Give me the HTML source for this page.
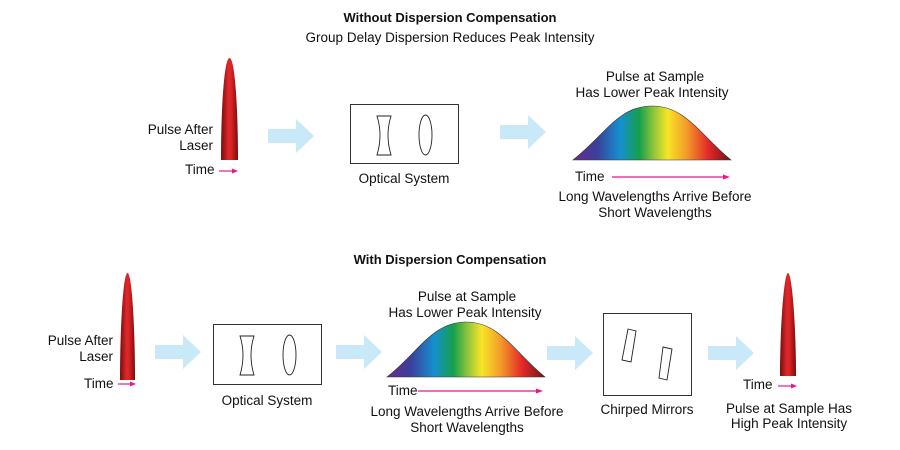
<!DOCTYPE html>
<html><head><style>
html,body{margin:0;padding:0;background:#fff;}
svg{display:block;}
text{font-family:"Liberation Sans",Arial,sans-serif;font-size:13.5px;fill:#111;}
.b{font-weight:bold;font-size:13px;}
</style></head><body>
<svg width="900" height="450" viewBox="0 0 900 450" xmlns="http://www.w3.org/2000/svg">
<defs>
<linearGradient id="rb" x1="0" x2="1" y1="0" y2="0">
<stop offset="0" stop-color="#6a2a8f"/>
<stop offset="0.15" stop-color="#3a3f9a"/>
<stop offset="0.3" stop-color="#1690d0"/>
<stop offset="0.42" stop-color="#16a04a"/>
<stop offset="0.52" stop-color="#9cc83a"/>
<stop offset="0.6" stop-color="#f7e526"/>
<stop offset="0.72" stop-color="#f39a2a"/>
<stop offset="0.86" stop-color="#e3262a"/>
<stop offset="1" stop-color="#6e1414"/>
</linearGradient>
<linearGradient id="rd" x1="0" x2="1" y1="0" y2="0">
<stop offset="0" stop-color="#7a0c0c"/>
<stop offset="0.45" stop-color="#e0282a"/>
<stop offset="0.6" stop-color="#d82326"/>
<stop offset="1" stop-color="#7a0c0c"/>
</linearGradient>
<g id="arr"><path d="M0,-7 H28 V-17 L46,0 L28,17 V7 H0 Z" fill="#c9e8f8"/></g>
</defs>

<text class="b" x="450" y="22" text-anchor="middle">Without Dispersion Compensation</text>
<text x="450" y="42" text-anchor="middle">Group Delay Dispersion Reduces Peak Intensity</text>

<path d="M221,160 C221,110 224,58 229.5,58 C235,58 238,110 238,160 Z" fill="url(#rd)"/>
<text x="213" y="134" text-anchor="end">Pulse After</text>
<text x="213" y="150" text-anchor="end">Laser</text>
<text x="185" y="174">Time</text>
<line x1="219" y1="171" x2="233" y2="171" stroke="#e8188c" stroke-width="1.2"/>
<path d="M238,171 L232,168.5 L232,173.5Z" fill="#e8188c"/>

<use href="#arr" x="268" y="136"/>
<rect x="350.5" y="104.5" width="108" height="59" fill="none" stroke="#333" stroke-width="1"/>
<path d="M377,116 H391 Q385,135 391,155 H377 Q383,135 377,116Z" fill="none" stroke="#222" stroke-width="0.9"/>
<ellipse cx="425.5" cy="135" rx="6.5" ry="20" fill="none" stroke="#222" stroke-width="0.9"/>
<text x="404" y="183" text-anchor="middle">Optical System</text>

<use href="#arr" x="500" y="132"/>
<path d="M573,160 C605,135 618,106 652,106 C686,106 700,135 731,160 Z" fill="url(#rb)" stroke="#333" stroke-width="0.6"/>
<text x="655" y="81" text-anchor="middle">Pulse at Sample</text>
<text x="652" y="97" text-anchor="middle">Has Lower Peak Intensity</text>
<text x="575" y="181">Time</text>
<line x1="612" y1="177" x2="724" y2="177" stroke="#e8188c" stroke-width="1.2"/>
<path d="M730,177 L723,174.5 L723,179.5Z" fill="#e8188c"/>
<text x="655" y="201" text-anchor="middle">Long Wavelengths Arrive Before</text>
<text x="655" y="217" text-anchor="middle">Short Wavelengths</text>

<text class="b" x="450" y="264" text-anchor="middle">With Dispersion Compensation</text>

<path d="M120,380 C120,330 123,273 127.5,273 C132,273 135,330 135,380 Z" fill="url(#rd)"/>
<text x="113" y="345" text-anchor="end">Pulse After</text>
<text x="113" y="361" text-anchor="end">Laser</text>
<text x="84" y="388">Time</text>
<line x1="118" y1="384" x2="131" y2="384" stroke="#e8188c" stroke-width="1.2"/>
<path d="M136,384 L130,381.5 L130,386.5Z" fill="#e8188c"/>

<use href="#arr" x="155" y="352"/>
<rect x="213.5" y="324.5" width="108" height="60" fill="none" stroke="#333" stroke-width="1"/>
<path d="M240,336 H254 Q248,355 254,375 H240 Q246,355 240,336Z" fill="none" stroke="#222" stroke-width="0.9"/>
<ellipse cx="289.5" cy="355" rx="6.5" ry="20" fill="none" stroke="#222" stroke-width="0.9"/>
<text x="267" y="405" text-anchor="middle">Optical System</text>

<use href="#arr" x="336" y="352"/>
<path d="M387,377 C419,352 432,322 466,322 C500,322 514,352 545,377 Z" fill="url(#rb)" stroke="#333" stroke-width="0.6"/>
<text x="467" y="301" text-anchor="middle">Pulse at Sample</text>
<text x="465" y="317" text-anchor="middle">Has Lower Peak Intensity</text>
<text x="388" y="395">Time</text>
<line x1="418" y1="391" x2="537" y2="391" stroke="#e8188c" stroke-width="1.2"/>
<path d="M543,391 L536,388.5 L536,393.5Z" fill="#e8188c"/>
<text x="467" y="416" text-anchor="middle">Long Wavelengths Arrive Before</text>
<text x="467" y="432" text-anchor="middle">Short Wavelengths</text>

<use href="#arr" x="547" y="353"/>
<rect x="603.5" y="313.5" width="88" height="82" fill="none" stroke="#333" stroke-width="1"/>
<path d="M628,329 L636,331 L631,362 L622,360Z" fill="none" stroke="#222" stroke-width="0.9"/>
<path d="M663,347 L672,349 L667,380 L659,378Z" fill="none" stroke="#222" stroke-width="0.9"/>
<text x="647" y="414" text-anchor="middle">Chirped Mirrors</text>

<use href="#arr" x="708" y="353"/>
<path d="M780,376 C780,326 784,273 788,273 C792,273 796,326 796,376 Z" fill="url(#rd)"/>
<text x="743" y="389">Time</text>
<line x1="778" y1="386" x2="791" y2="386" stroke="#e8188c" stroke-width="1.2"/>
<path d="M797,386 L791,383.5 L791,388.5Z" fill="#e8188c"/>
<text x="789" y="413" text-anchor="middle">Pulse at Sample Has</text>
<text x="789" y="428" text-anchor="middle">High Peak Intensity</text>
</svg>
</body></html>
